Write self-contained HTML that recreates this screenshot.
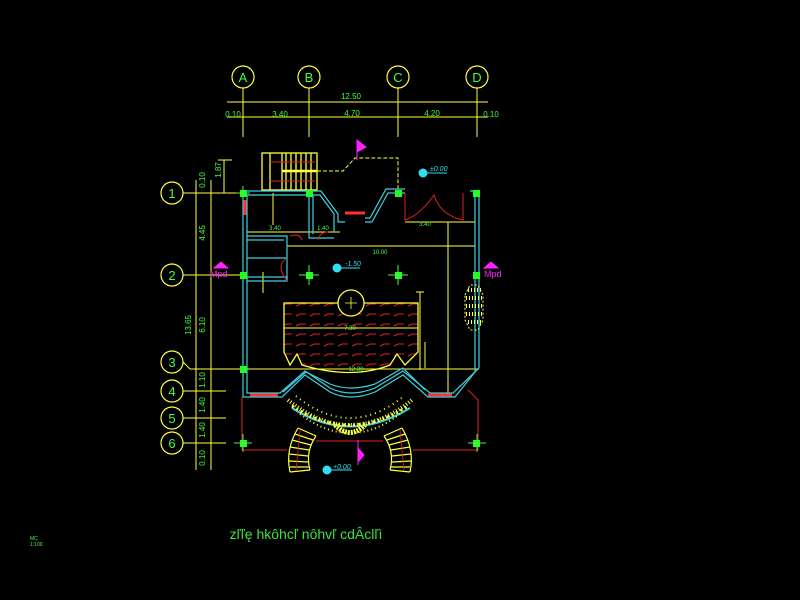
<!DOCTYPE html>
<html><head><meta charset="utf-8"><style>
html,body{margin:0;padding:0;background:#000;width:800px;height:600px;overflow:hidden}
svg{display:block}
text{font-family:"Liberation Sans",sans-serif}
</style></head><body>
<svg width="800" height="600" viewBox="0 0 800 600" xmlns="http://www.w3.org/2000/svg">
<rect width="800" height="600" fill="#000"/>
<defs>
<pattern id="hatch" width="14" height="10" patternUnits="userSpaceOnUse">
<line x1="2" y1="6" x2="6" y2="4" stroke="#e02020" stroke-width="1"/>
<line x1="6" y1="4" x2="12" y2="4" stroke="#e02020" stroke-width="1"/>
</pattern>
</defs>
<g fill="none" stroke="#ffff40" stroke-width="1.2">
<circle cx="243" cy="77" r="11"/><circle cx="309" cy="77" r="11"/><circle cx="398" cy="77" r="11"/><circle cx="477" cy="77" r="11"/>
<circle cx="172" cy="193" r="11"/><circle cx="172" cy="275" r="11"/><circle cx="172" cy="362" r="11"/><circle cx="172" cy="391" r="11"/><circle cx="172" cy="418" r="11"/><circle cx="172" cy="443" r="11"/>
</g>
<g font-size="13" fill="#40ff40" text-anchor="middle">
<text x="243" y="82">A</text><text x="309" y="82">B</text><text x="398" y="82">C</text><text x="477" y="82">D</text>
<text x="172" y="198">1</text><text x="172" y="280">2</text><text x="172" y="367">3</text><text x="172" y="396">4</text><text x="172" y="423">5</text><text x="172" y="448">6</text>
</g>
<g stroke="#ffff40" stroke-width="1" fill="none">
<line x1="243" y1="88" x2="243" y2="137"/><line x1="309" y1="88" x2="309" y2="137"/><line x1="398" y1="88" x2="398" y2="137"/><line x1="477" y1="88" x2="477" y2="137"/>
<line x1="227" y1="102" x2="488" y2="102"/><line x1="227" y1="117" x2="488" y2="117"/>
<line x1="183" y1="193" x2="240" y2="193"/><line x1="183" y1="275" x2="240" y2="275"/>
<path d="M183 362 L190 369 L240 369"/><line x1="183" y1="391" x2="226" y2="391"/><line x1="183" y1="418" x2="226" y2="418"/><line x1="183" y1="443" x2="226" y2="443"/>
<line x1="196" y1="180" x2="196" y2="470"/><line x1="211" y1="180" x2="211" y2="470"/>
<line x1="224" y1="160" x2="224" y2="193"/><line x1="218" y1="160" x2="232" y2="160"/>
<line x1="247" y1="232" x2="340" y2="232"/>
<line x1="287" y1="246" x2="475" y2="246"/>
<line x1="273" y1="193" x2="273" y2="225"/>
<line x1="405" y1="222" x2="475" y2="222"/>
<line x1="448" y1="222" x2="448" y2="395"/><line x1="425" y1="342" x2="425" y2="368"/>
<line x1="420" y1="292" x2="420" y2="370"/><line x1="416" y1="292" x2="424" y2="292"/>
<line x1="243" y1="369" x2="479" y2="369"/>
<line x1="247" y1="258" x2="278" y2="258"/><line x1="263" y1="272" x2="263" y2="293"/>
</g>
<g font-size="8" fill="#40ff40" text-anchor="middle">
<text x="351" y="99">12.50</text>
<text x="233" y="117">0.10</text><text x="280" y="117">3.40</text><text x="352" y="116">4.70</text><text x="432" y="116">4.20</text><text x="491" y="117">0.10</text>
<text x="205" y="180" transform="rotate(-90 205 180)">0.10</text>
<text x="205" y="233" transform="rotate(-90 205 233)">4.45</text>
<text x="205" y="325" transform="rotate(-90 205 325)">6.10</text>
<text x="191" y="325" transform="rotate(-90 191 325)">13.65</text>
<text x="205" y="380" transform="rotate(-90 205 380)">1.10</text>
<text x="205" y="405" transform="rotate(-90 205 405)">1.40</text>
<text x="205" y="430" transform="rotate(-90 205 430)">1.40</text>
<text x="205" y="458" transform="rotate(-90 205 458)">0.10</text>
<text x="221" y="170" transform="rotate(-90 221 170)">1.87</text>
<text font-size="6" x="275" y="230">3.40</text><text font-size="6" x="323" y="230">1.40</text>
<text font-size="6" x="380" y="254">10.00</text><text font-size="6" x="425" y="226">3.40</text>
<text font-size="6" x="350" y="330">7.30</text><text font-size="6" x="356" y="371">12.30</text>
</g>
<g stroke="#ffff40" stroke-width="1.3" fill="none">
<rect x="262" y="153" width="55" height="37"/>
<line x1="270" y1="153" x2="270" y2="190"/><line x1="282" y1="153" x2="282" y2="190"/><line x1="286" y1="153" x2="286" y2="190"/><line x1="291" y1="153" x2="291" y2="190"/><line x1="296" y1="153" x2="296" y2="190"/><line x1="301" y1="153" x2="301" y2="190"/><line x1="306" y1="153" x2="306" y2="190"/><line x1="311" y1="153" x2="311" y2="190"/>
<line x1="282" y1="171" x2="317" y2="171" stroke-width="2.5"/>
</g>
<g stroke="#e02020" stroke-width="1" fill="none"><path d="M270 162 L315 162 M270 181 L315 181"/></g>
<path d="M317 171 L343 171 L355 158 L398 158 L398 193" stroke="#ffff40" stroke-dasharray="4,2" fill="none"/>
<g stroke="#40d0e0" stroke-width="1.2" fill="none">
<path d="M243 191 L321 191 L338 214 L338 222 L345 222"/><path d="M247 195 L320 195 L334 214 L334 232"/>
<path d="M243 191 L243 397 L282 397 L305 375 L330 392 Q350 402 375 392 L403 375 L428 397 L455 397 L475 372 L475 191 L470 191"/>
<path d="M247 195 L247 393 L280 393 L305 371 L330 388 Q350 398 375 388 L403 371 L430 393 L453 393 L479 368 L479 191"/>
<path d="M365 222 L372 222 L388 193 L405 193 M365 218 L370 218 L386 189 L405 189"/>
<path d="M309 195 L309 238 L334 238 M313 195 L313 234"/>
<path d="M247 236 L287 236 L287 280 M247 240 L284 240"/>
<path d="M247 258 L287 258 M247 277 L287 277 L287 281 L247 281"/>
<path d="M283 392 L306 372 L330 384 Q350 392 375 384 L403 368 L425 390"/>
</g>
<g stroke="#ff3030" stroke-width="3"><line x1="345" y1="213" x2="365" y2="213"/><line x1="250" y1="395" x2="278" y2="395"/><line x1="428" y1="395" x2="452" y2="395"/><line x1="245" y1="200" x2="245" y2="215"/></g>
<g stroke="#e02020" stroke-width="1" fill="none">
<path d="M405 193 L405 220 Q420 215 434 195 Q440 215 463 220 L463 193"/>
<path d="M290 236 Q300 233 302 240 M318 240 Q320 232 328 232"/>
<path d="M287 258 Q275 265 287 281"/>
<path d="M242 397 L242 450 L287 450 M316 441 L383 441 M413 450 L478 450 L478 400 L468 390"/>
</g>
<path d="M284 303 L418 303 L418 352 L405 365 L397 354 L390 365 Q352 380 302 365 L297 354 L290 365 L284 352 Z" fill="url(#hatch)" stroke="#ffff40" stroke-width="1.3"/>
<line x1="284" y1="328" x2="418" y2="328" stroke="#ffff40"/>
<circle cx="351" cy="303" r="13" fill="#000" stroke="#ffff40" stroke-width="1.3"/>
<path d="M351 297 L351 309 M345 303 L357 303" stroke="#ffff40" stroke-width="0.8"/>
<!-- vegetation -->
<path d="M292 408 Q350 445 410 408" stroke="#40d0e0" stroke-width="2" fill="none"/>
<g fill="none" stroke="#ffff40">
<path d="M288 400 Q350 450 412 400" stroke-width="4" stroke-dasharray="1,2"/>
<path d="M292 406 Q350 444 408 406" stroke-width="3" stroke-dasharray="2,3"/>
<path d="M296 396 Q350 440 404 396" stroke-width="2" stroke-dasharray="1,4"/>
<path d="M300 414 Q350 452 400 414" stroke-width="2" stroke-dasharray="1,3"/>
<path d="M335 425 Q350 440 365 425" stroke-width="5" stroke-dasharray="2,1"/>
<path d="M468 290 L483 290 M466 298 L484 298 M466 306 L484 306 M466 314 L484 314 M468 322 L482 322" stroke-width="4" stroke-dasharray="1,2"/>
<path d="M465 295 L470 285 L478 285 L483 295 L483 320 L478 330 L470 330 L465 320 Z" stroke-dasharray="2,2"/>
</g>
<!-- bottom stairs -->
<g stroke="#ffff40" stroke-width="1.2" fill="none">
<path d="M298 428 Q285 450 290 472 M316 436 Q305 452 310 470 M298 428 L316 436 M290 472 L310 470"/>
<path d="M402 428 Q415 450 410 472 M384 436 Q395 452 390 470 M402 428 L384 436 M410 472 L390 470"/>
<path d="M295 434 L313 440 M292 440 L311 445 M290 447 L309 450 M289 454 L308 456 M289 461 L308 462 M290 467 L309 467"/>
<path d="M405 434 L387 440 M408 440 L389 445 M410 447 L391 450 M411 454 L392 456 M411 461 L392 462 M410 467 L391 467"/>
</g>
<g stroke="#e02020" stroke-width="0.8"><path d="M300 430 L296 470 M400 430 L404 470"/></g>
<g fill="#20ff20">
<rect x="240" y="190" width="7" height="7"/><rect x="306" y="190" width="7" height="7"/><rect x="395" y="190" width="7" height="7"/><rect x="473" y="190" width="7" height="7"/>
<rect x="240" y="272" width="7" height="7"/><rect x="306" y="272" width="7" height="7"/><rect x="395" y="272" width="7" height="7"/><rect x="473" y="272" width="7" height="7"/>
<rect x="240" y="366" width="7" height="7"/><rect x="240" y="440" width="7" height="7"/><rect x="473" y="440" width="7" height="7"/>
</g>
<g stroke="#40ff40" stroke-width="1"><path d="M243 186 V200 M236 193 H250 M309 265 V285 M299 275 H319 M398 265 V285 M388 275 H408 M243 434 V452 M234 443 H252 M477 434 V452 M468 443 H486"/></g>
<g fill="#30e0f0" stroke="#30e0f0">
<circle cx="423" cy="173" r="4"/><line x1="427" y1="173" x2="447" y2="173"/>
<circle cx="337" cy="268" r="4"/><line x1="341" y1="268" x2="360" y2="268"/>
<circle cx="327" cy="470" r="4"/><line x1="331" y1="470" x2="352" y2="470"/>
</g>
<g font-size="7" fill="#30e0f0" font-style="italic"><text x="430" y="171">±0.00</text><text x="345" y="266">-1.50</text><text x="333" y="469">+0.00</text></g>
<g fill="#ff20ff" stroke="#ff20ff">
<path d="M357 140 L366 147 L357 152 Z"/><line x1="357" y1="140" x2="357" y2="160"/>
<path d="M358 448 L364 455 L358 462 Z"/><line x1="358" y1="440" x2="358" y2="465"/>
<path d="M214 268 L221 262 L228 268 Z"/><path d="M484 268 L491 262 L498 268 Z"/>
</g>
<g font-size="9" fill="#ff20ff"><text x="210" y="277">Mpd</text><text x="484" y="277">Mpd</text></g>
<g fill="#40ff40"><text x="30" y="540" font-size="5">MC</text><text x="30" y="546" font-size="5">1:100</text></g>
<text x="306" y="539" font-size="14" fill="#40e040" text-anchor="middle" font-family="Liberation Mono, monospace">zľľę hkôhcľ nôhvľ cdÂclľì</text>
</svg>
</body></html>
